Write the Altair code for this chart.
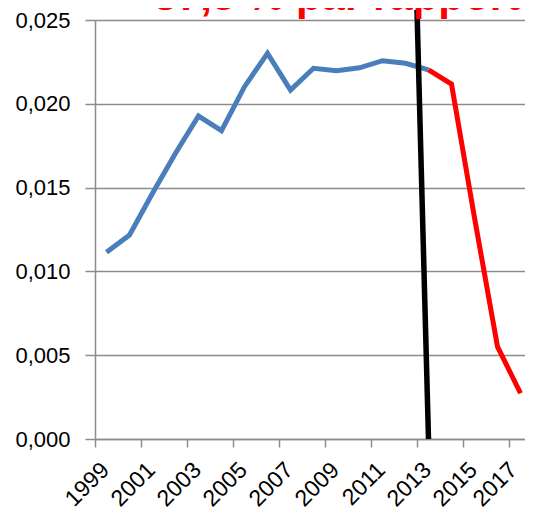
import altair as alt
import pandas as pd

# ---- data ----
years_blue = [1999, 2000, 2001, 2002, 2003, 2004, 2005, 2006, 2007, 2008, 2009, 2010, 2011, 2012, 2013]
values_blue = [0.01114, 0.01217, 0.01466, 0.01705, 0.01927, 0.01840, 0.02102, 0.02301, 0.02082,
               0.02212, 0.02198, 0.02215, 0.02257, 0.02242, 0.02202]
years_red = [2013, 2014, 2015, 2016, 2017]
values_red = [0.02202, 0.02118, 0.01320, 0.00551, 0.00273]

tick_edges = [1998.5 + i for i in range(20)]
y_ticks = [0.0, 0.005, 0.010, 0.015, 0.020, 0.025]

# black marker line (slightly tilted, as drawn in the reference)
marker_x = [2013.0]
marker_x2 = [2012.5]
marker_y = [0.0]
marker_y2 = [0.0256]

annotation = ["-87,5 % par rapport"]

FONT = "Liberation Sans"

rows = []
for yr, v in zip(years_blue, values_blue):
    rows.append({"year": yr, "value": v, "series": "avant"})
for yr, v in zip(years_red, values_red):
    rows.append({"year": yr, "value": v, "series": "après"})
df = pd.DataFrame(rows)

marker_df = pd.DataFrame({"x": marker_x, "x2": marker_x2, "y": marker_y, "y2": marker_y2})
text_df = pd.DataFrame({"label": annotation})

x_scale = alt.Scale(domain=[1998.5, 2017.5], nice=False, zero=False)
y_scale = alt.Scale(domain=[0, 0.025], nice=False)

x_axis = alt.Axis(
    values=tick_edges,
    title=None,
    grid=False,
    tickSize=8,
    tickColor="#8c8c8c",
    tickWidth=1.5,
    domainColor="#8c8c8c",
    domainWidth=1.5,
    labelExpr="((datum.value + 0.5) % 2 == 1 && datum.value < 2017) ? format(datum.value + 0.5, 'd') : ''",
    labelOffset={"expr": "datum.value > 2016 ? 4 : 10"},
    labelAngle=-45,
    labelAlign="right",
    labelBaseline="middle",
    labelPadding=19,
    labelFont=FONT,
    labelFontSize=23,
    labelColor="#000000",
    labelOverlap=False,
    labelFlush=False,
    labelBound=False,
)

y_axis = alt.Axis(
    values=y_ticks,
    title=None,
    grid=True,
    gridColor="#8c8c8c",
    gridWidth=1.5,
    tickSize=10,
    tickColor="#8c8c8c",
    tickWidth=1.5,
    domainColor="#8c8c8c",
    domainWidth=1.5,
    labelExpr="replace(format(datum.value, '.3f'), '.', ',')",
    labelPadding=15,
    labelFont=FONT,
    labelFontSize=22,
    labelColor="#000000",
    labelOverlap=False,
    labelFlush=False,
)

lines = alt.Chart(df).mark_line(strokeWidth=5, strokeJoin="miter", strokeCap="butt").encode(
    x=alt.X("year:Q", scale=x_scale, axis=x_axis),
    y=alt.Y("value:Q", scale=y_scale, axis=y_axis),
    color=alt.Color("series:N", scale=alt.Scale(domain=["avant", "après"], range=["#4a7ebb", "#ff0000"]), legend=None),
    detail="series:N",
)

marker = alt.Chart(marker_df).mark_rule(color="#000000", strokeWidth=5.5).encode(
    x=alt.X("x:Q", scale=x_scale),
    x2="x2:Q",
    y=alt.Y("y:Q", scale=y_scale),
    y2="y2:Q",
)

text = alt.Chart(text_df).mark_text(
    align="right", baseline="alphabetic", font=FONT, fontSize=42, fontWeight="bold", color="#ff0000"
).encode(
    x=alt.value(425),
    y=alt.value(-10),
    text="label:N",
)

chart = alt.layer(lines, marker, text).properties(
    width=437,
    height=419,
    autosize=alt.AutoSizeParams(type="none"),
    padding={"left": 87, "top": 12, "right": -7, "bottom": 76},
).configure_view(stroke=None).configure(background="#ffffff")

chart.save("out.html", embed_options={"renderer": "svg", "actions": False})
